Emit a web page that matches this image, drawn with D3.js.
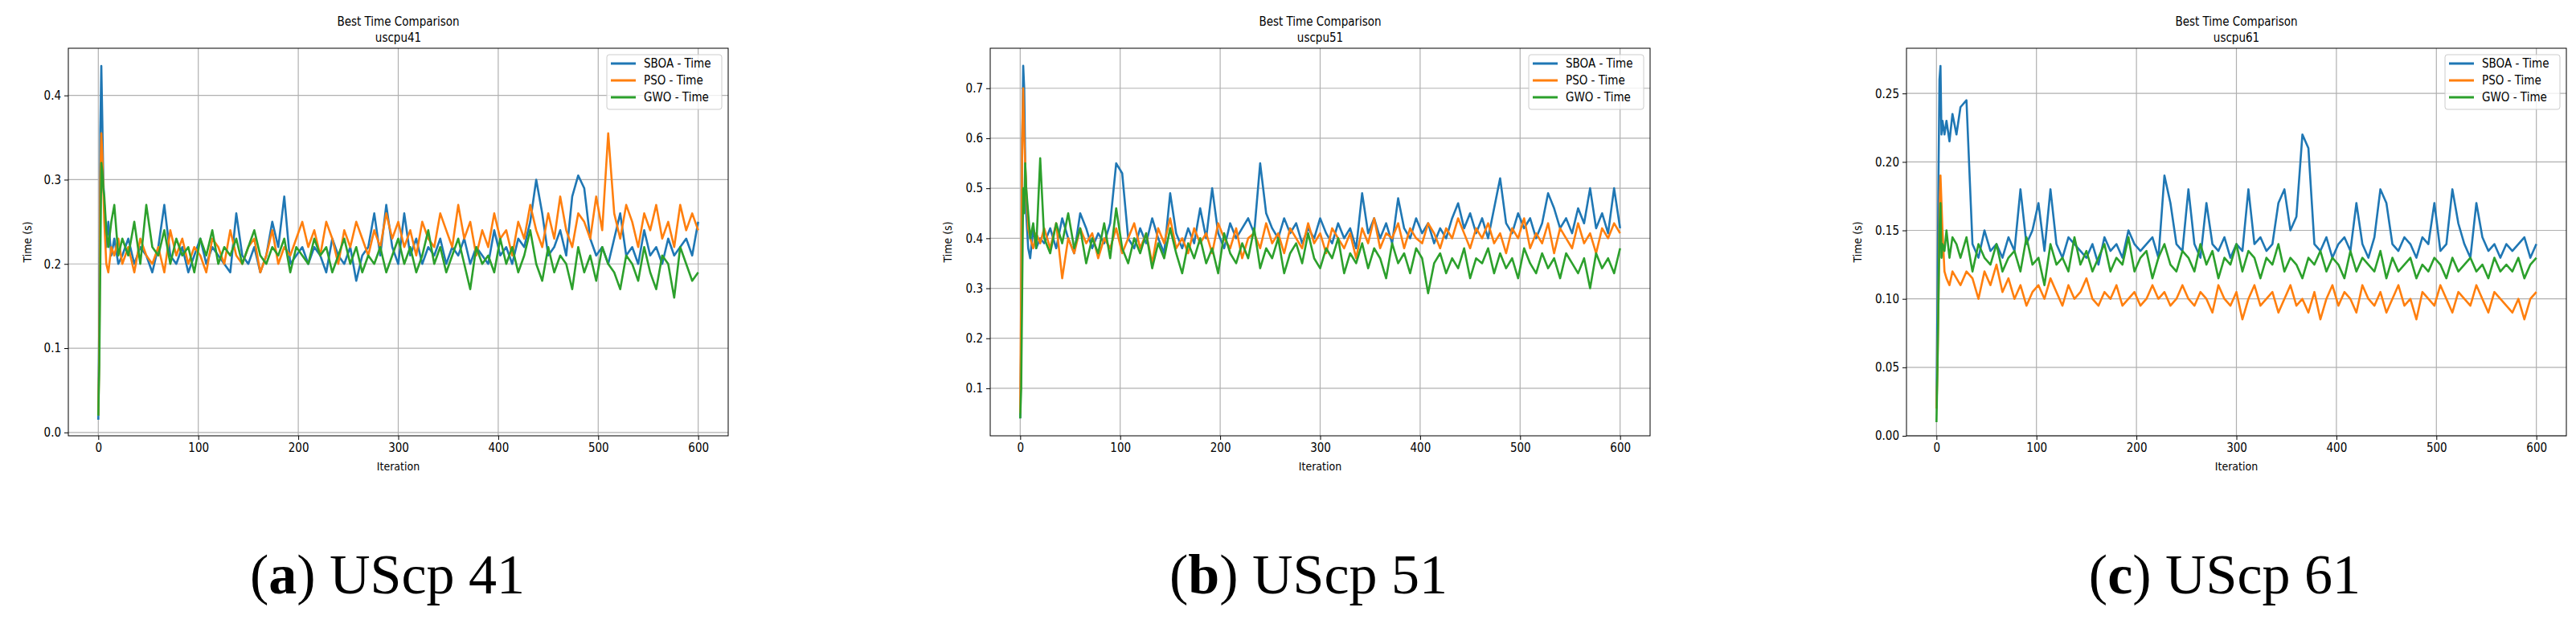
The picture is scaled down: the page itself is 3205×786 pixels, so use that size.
<!DOCTYPE html>
<html>
<head>
<meta charset="utf-8">
<script src="https://cdn.jsdelivr.net/npm/d3@7"></script>
<style>
  body { margin: 0; background: #fff; }
  text { font-family: "DejaVu Sans Condensed", "DejaVu Sans", sans-serif; }
</style>
</head>
<body>
<svg id="chart" width="3205" height="786"></svg>
<script>
var iters = [0,1,2,3,4,5,6,8,10,13,16,20,
  24,30,36,42,48,54,60,66,72,78,84,90,96,102,108,114,120,126,132,138,144,150,156,162,168,174,180,186,192,198,
  204,210,216,222,228,234,240,246,252,258,264,270,276,282,288,294,300,306,312,318,324,330,336,342,348,354,360,366,372,378,
  384,390,396,402,408,414,420,426,432,438,444,450,456,462,468,474,480,486,492,498,504,510,516,522,528,534,540,546,552,558,
  564,570,576,582,588,594,600];

var seriesNames = ["SBOA - Time", "PSO - Time", "GWO - Time"];
var seriesColors = ["#1f77b4", "#ff7f0e", "#2ca02c"];
var xTicks = [0, 100, 200, 300, 400, 500, 600];

// uscpu41
var sboa41 = [0.015,0.14,0.36,0.435,0.37,0.30,0.27,0.22,0.25,0.21,0.23,0.20,
  0.21,0.23,0.20,0.22,0.21,0.19,0.22,0.27,0.21,0.20,0.22,0.19,0.21,0.23,0.20,0.22,0.21,0.20,0.19,0.26,0.21,0.20,0.22,0.19,0.21,0.25,0.22,0.28,0.20,0.21,
  0.22,0.20,0.22,0.21,0.19,0.23,0.21,0.20,0.22,0.18,0.21,0.22,0.26,0.21,0.27,0.22,0.20,0.26,0.21,0.23,0.20,0.22,0.21,0.23,0.20,0.22,0.21,0.23,0.20,0.22,
  0.21,0.20,0.24,0.21,0.22,0.20,0.23,0.22,0.25,0.30,0.26,0.21,0.22,0.24,0.21,0.28,0.305,0.29,0.23,0.21,0.22,0.20,0.23,0.26,0.21,0.22,0.20,0.24,0.21,0.22,
  0.20,0.23,0.21,0.22,0.23,0.21,0.25];
var pso41 = [0.02,0.10,0.30,0.355,0.33,0.29,0.25,0.20,0.19,0.22,0.21,0.23,
  0.20,0.22,0.19,0.23,0.21,0.20,0.22,0.19,0.24,0.21,0.23,0.20,0.22,0.21,0.19,0.23,0.22,0.20,0.24,0.21,0.20,0.22,0.23,0.19,0.21,0.24,0.20,0.22,0.21,0.23,
  0.25,0.22,0.24,0.21,0.25,0.23,0.20,0.24,0.22,0.25,0.23,0.21,0.24,0.22,0.26,0.23,0.25,0.22,0.24,0.21,0.25,0.23,0.22,0.26,0.24,0.22,0.27,0.23,0.25,0.21,
  0.24,0.22,0.26,0.23,0.24,0.21,0.25,0.23,0.27,0.24,0.22,0.26,0.23,0.28,0.24,0.22,0.26,0.25,0.23,0.28,0.24,0.355,0.26,0.23,0.27,0.25,0.22,0.26,0.24,0.27,
  0.23,0.25,0.22,0.27,0.24,0.26,0.24];
var gwo41 = [0.02,0.08,0.20,0.32,0.31,0.29,0.28,0.24,0.22,0.25,0.27,0.21,
  0.23,0.21,0.25,0.20,0.27,0.22,0.21,0.24,0.20,0.23,0.21,0.22,0.19,0.23,0.21,0.24,0.20,0.22,0.21,0.23,0.20,0.22,0.24,0.21,0.20,0.22,0.21,0.23,0.19,0.22,
  0.21,0.20,0.23,0.21,0.22,0.19,0.21,0.23,0.20,0.22,0.19,0.21,0.20,0.22,0.19,0.21,0.23,0.20,0.22,0.19,0.21,0.24,0.20,0.22,0.19,0.21,0.23,0.20,0.17,0.22,
  0.20,0.21,0.19,0.23,0.20,0.22,0.19,0.21,0.24,0.20,0.18,0.22,0.19,0.21,0.20,0.17,0.22,0.19,0.21,0.18,0.22,0.20,0.19,0.17,0.21,0.20,0.18,0.22,0.19,0.17,
  0.21,0.20,0.16,0.22,0.20,0.18,0.19];

// uscpu51
var sboa51 = [0.04,0.20,0.60,0.745,0.70,0.55,0.45,0.38,0.36,0.42,0.38,0.40,
  0.39,0.42,0.38,0.44,0.40,0.37,0.45,0.42,0.38,0.41,0.39,0.43,0.55,0.53,0.40,0.38,0.42,0.39,0.44,0.40,0.37,0.49,0.41,0.38,0.42,0.39,0.46,0.40,0.50,0.41,
  0.38,0.43,0.40,0.42,0.44,0.41,0.55,0.45,0.42,0.40,0.44,0.41,0.43,0.39,0.42,0.40,0.44,0.41,0.39,0.43,0.40,0.42,0.38,0.49,0.41,0.44,0.40,0.43,0.39,0.48,
  0.42,0.40,0.44,0.41,0.43,0.39,0.42,0.40,0.44,0.47,0.42,0.45,0.41,0.44,0.40,0.46,0.52,0.43,0.41,0.45,0.42,0.44,0.40,0.43,0.49,0.46,0.42,0.44,0.41,0.46,
  0.43,0.50,0.42,0.45,0.41,0.50,0.42];
var pso51 = [0.05,0.30,0.60,0.70,0.60,0.55,0.50,0.42,0.40,0.38,0.41,0.39,
  0.42,0.38,0.43,0.32,0.40,0.37,0.42,0.39,0.41,0.36,0.40,0.38,0.42,0.37,0.40,0.43,0.38,0.41,0.35,0.42,0.39,0.44,0.38,0.40,0.37,0.42,0.39,0.41,0.37,0.43,
  0.40,0.38,0.42,0.36,0.40,0.41,0.38,0.43,0.39,0.41,0.37,0.42,0.40,0.38,0.43,0.39,0.41,0.37,0.42,0.40,0.38,0.41,0.36,0.42,0.39,0.44,0.38,0.41,0.40,0.43,
  0.38,0.42,0.40,0.39,0.43,0.41,0.38,0.42,0.40,0.44,0.41,0.38,0.42,0.40,0.43,0.39,0.41,0.37,0.42,0.40,0.44,0.38,0.41,0.39,0.43,0.37,0.42,0.40,0.38,0.43,
  0.39,0.41,0.37,0.42,0.40,0.43,0.41];
var gwo51 = [0.04,0.10,0.30,0.50,0.45,0.55,0.50,0.45,0.40,0.43,0.38,0.56,
  0.40,0.37,0.43,0.39,0.45,0.38,0.42,0.35,0.40,0.37,0.43,0.36,0.46,0.38,0.35,0.40,0.37,0.41,0.34,0.39,0.36,0.42,0.37,0.33,0.39,0.36,0.40,0.35,0.38,0.33,
  0.41,0.37,0.35,0.39,0.36,0.42,0.34,0.38,0.36,0.40,0.33,0.37,0.39,0.35,0.41,0.36,0.34,0.38,0.36,0.40,0.33,0.37,0.35,0.39,0.34,0.38,0.36,0.32,0.39,0.35,
  0.37,0.33,0.38,0.36,0.29,0.35,0.37,0.33,0.36,0.34,0.38,0.32,0.36,0.35,0.38,0.33,0.37,0.34,0.36,0.32,0.38,0.35,0.33,0.37,0.34,0.36,0.32,0.37,0.35,0.33,
  0.36,0.30,0.37,0.34,0.36,0.33,0.38];

// uscpu61
var sboa61 = [0.02,0.10,0.19,0.26,0.27,0.22,0.23,0.22,0.23,0.215,0.235,0.22,
  0.24,0.245,0.14,0.13,0.15,0.135,0.14,0.13,0.145,0.135,0.18,0.14,0.15,0.17,0.135,0.18,0.14,0.13,0.145,0.14,0.135,0.13,0.14,0.125,0.145,0.135,0.14,0.13,
  0.15,0.14,0.135,0.14,0.145,0.13,0.19,0.17,0.14,0.135,0.18,0.14,0.13,0.17,0.14,0.135,0.145,0.13,0.14,0.135,0.18,0.14,0.145,0.135,0.14,0.17,0.18,0.15,
  0.16,0.22,0.21,0.14,0.135,0.145,0.13,0.14,0.145,0.135,0.17,0.14,0.13,0.145,0.18,0.17,0.14,0.135,0.145,0.14,0.13,0.145,0.14,0.17,0.135,0.14,0.18,0.155,
  0.14,0.13,0.17,0.145,0.135,0.14,0.13,0.14,0.135,0.14,0.145,0.13,0.14];
var pso61 = [0.02,0.05,0.10,0.16,0.19,0.17,0.15,0.12,0.115,0.11,0.12,0.115,
  0.11,0.12,0.115,0.10,0.12,0.11,0.125,0.105,0.115,0.10,0.11,0.095,0.105,0.11,0.10,0.115,0.105,0.095,0.11,0.10,0.105,0.115,0.10,0.095,0.105,0.10,0.11,0.095,
  0.10,0.105,0.095,0.10,0.11,0.10,0.105,0.095,0.10,0.11,0.10,0.095,0.105,0.10,0.09,0.11,0.10,0.095,0.105,0.085,0.10,0.11,0.095,0.10,0.105,0.09,0.10,0.11,
  0.095,0.10,0.09,0.105,0.085,0.10,0.11,0.095,0.105,0.10,0.09,0.11,0.10,0.095,0.105,0.09,0.10,0.11,0.095,0.10,0.085,0.105,0.10,0.095,0.11,0.10,0.09,0.105,
  0.10,0.095,0.11,0.10,0.09,0.105,0.10,0.095,0.09,0.10,0.085,0.10,0.105];
var gwo61 = [0.01,0.05,0.10,0.15,0.17,0.13,0.14,0.135,0.15,0.13,0.145,0.14,
  0.13,0.145,0.12,0.14,0.13,0.125,0.14,0.12,0.13,0.135,0.12,0.145,0.125,0.13,0.11,0.14,0.125,0.13,0.12,0.145,0.125,0.135,0.12,0.13,0.14,0.12,0.13,0.125,
  0.145,0.12,0.13,0.135,0.115,0.13,0.14,0.125,0.12,0.135,0.13,0.12,0.14,0.125,0.135,0.115,0.13,0.125,0.14,0.12,0.135,0.13,0.115,0.13,0.125,0.14,0.12,0.13,
  0.125,0.115,0.13,0.125,0.135,0.12,0.13,0.125,0.115,0.135,0.12,0.13,0.125,0.12,0.135,0.115,0.13,0.12,0.125,0.13,0.115,0.125,0.12,0.13,0.125,0.115,0.13,0.12,
  0.125,0.13,0.12,0.125,0.115,0.13,0.12,0.125,0.12,0.13,0.115,0.125,0.13];

var panels = [
  {name: "uscpu41", letter: "a", label: "UScp 41", left: 85, y: [-0.004, 0.456], yTicks: [0, 0.1, 0.2, 0.3, 0.4], fmt: ".1f",
   series: [sboa41, pso41, gwo41], ylabX: 39, capX: 482},
  {name: "uscpu51", letter: "b", label: "UScp 51", left: 1232, y: [0.005, 0.78], yTicks: [0.1, 0.2, 0.3, 0.4, 0.5, 0.6, 0.7], fmt: ".1f",
   series: [sboa51, pso51, gwo51], ylabX: 1184, capX: 1628},
  {name: "uscpu61", letter: "c", label: "UScp 61", left: 2372, y: [0, 0.283], yTicks: [0, 0.05, 0.1, 0.15, 0.2, 0.25], fmt: ".2f",
   series: [sboa61, pso61, gwo61], ylabX: 2316, capX: 2768}
];

var svg = d3.select("#chart");
var W = 821, plotTop = 60, plotBottom = 542;

panels.forEach(function(p) {
  var x = d3.scaleLinear().domain([-30, 630]).range([p.left, p.left + W]);
  var y = d3.scaleLinear().domain(p.y).range([plotBottom, plotTop]);
  var g = svg.append("g");

  // grid
  g.selectAll("line.gx").data(xTicks).enter().append("line")
    .attr("x1", d => x(d)).attr("x2", d => x(d)).attr("y1", plotTop).attr("y2", plotBottom)
    .attr("stroke", "#b0b0b0").attr("stroke-width", 1.2);
  g.selectAll("line.gy").data(p.yTicks).enter().append("line")
    .attr("y1", d => y(d)).attr("y2", d => y(d)).attr("x1", p.left).attr("x2", p.left + W)
    .attr("stroke", "#b0b0b0").attr("stroke-width", 1.2);

  // series
  var clipId = "clip-" + p.letter;
  g.append("clipPath").attr("id", clipId).append("rect")
    .attr("x", p.left).attr("y", plotTop).attr("width", W).attr("height", plotBottom - plotTop);
  p.series.forEach(function(vals, i) {
    var n = Math.min(iters.length, vals.length);
    var pts = d3.range(n).map(k => [iters[k], vals[k]]);
    g.append("path").datum(pts)
      .attr("clip-path", "url(#" + clipId + ")")
      .attr("fill", "none").attr("stroke", seriesColors[i]).attr("stroke-width", 2.6)
      .attr("stroke-linejoin", "round")
      .attr("d", d3.line().x(d => x(d[0])).y(d => y(d[1])));
  });

  // axes
  var xa = g.append("g").attr("transform", "translate(0," + plotBottom + ")")
    .call(d3.axisBottom(x).tickValues(xTicks).tickSize(5).tickPadding(4).tickSizeOuter(0));
  var ya = g.append("g").attr("transform", "translate(" + p.left + ",0)")
    .call(d3.axisLeft(y).tickValues(p.yTicks).tickFormat(d3.format(p.fmt)).tickSize(5).tickPadding(4).tickSizeOuter(0));
  [xa, ya].forEach(function(a) {
    a.select(".domain").remove();
    a.selectAll("text").attr("font-size", 15).attr("fill", "#000")
      .style("font-family", "'DejaVu Sans Condensed', sans-serif");
    a.selectAll("line").attr("stroke", "#000");
  });
  g.append("rect").attr("x", p.left).attr("y", plotTop).attr("width", W).attr("height", plotBottom - plotTop)
    .attr("fill", "none").attr("stroke", "#000").attr("stroke-width", 1);

  var cx = p.left + W / 2;
  g.append("text").attr("x", cx).attr("y", 32).attr("text-anchor", "middle").attr("font-size", 15).text("Best Time Comparison");
  g.append("text").attr("x", cx).attr("y", 52).attr("text-anchor", "middle").attr("font-size", 15).text(p.name);
  g.append("text").attr("x", x(300)).attr("y", 585).attr("text-anchor", "middle").attr("font-size", 14).text("Iteration");
  g.append("text").attr("transform", "translate(" + p.ylabX + "," + ((plotTop + plotBottom) / 2) + ") rotate(-90)")
    .attr("text-anchor", "middle").attr("font-size", 14).text("Time (s)");

  // legend
  var lx = p.left + W - 151, ly = 68;
  g.append("rect").attr("x", lx).attr("y", ly).attr("width", 143).attr("height", 68).attr("rx", 3)
    .attr("fill", "#fff").attr("fill-opacity", 0.8).attr("stroke", "#cccccc");
  seriesNames.forEach(function(s, i) {
    var yy = ly + 11 + i * 21;
    g.append("line").attr("x1", lx + 5).attr("x2", lx + 36).attr("y1", yy).attr("y2", yy)
      .attr("stroke", seriesColors[i]).attr("stroke-width", 3);
    g.append("text").attr("x", lx + 46).attr("y", yy + 5).attr("font-size", 15).text(s);
  });

  // caption
  var cap = svg.append("text").attr("x", p.capX).attr("y", 738).attr("text-anchor", "middle")
    .attr("font-size", 70).style("font-family", "'Liberation Serif', 'DejaVu Serif', serif");
  cap.append("tspan").text("(");
  cap.append("tspan").attr("font-weight", "bold").text(p.letter);
  cap.append("tspan").text(") " + p.label);
});
</script>
</body>
</html>
